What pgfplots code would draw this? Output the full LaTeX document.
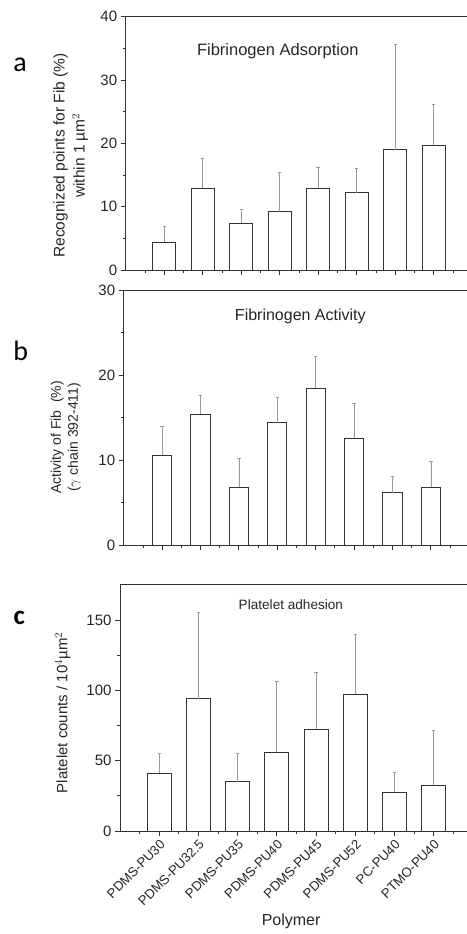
\documentclass[border=0pt]{standalone}
\usepackage{fontspec}
\setmainfont{Liberation Sans}
\newfontfamily\letterfont{Carlito}
\usepackage{pgfplots}
\pgfplotsset{compat=1.18}

\definecolor{axgray}{HTML}{333333}
\definecolor{errgray}{HTML}{9A9A9A}

\pgfplotsset{
  panel/.style={
    scale only axis, anchor=south west,
    xmin=0, xmax=9, ymin=0,
    ybar, bar shift=0pt,
    xtick={1,...,8},
    minor xtick={0.5,1.5,...,8.5},
    minor y tick num=1,
    tick align=outside, tick pos=left,
    major tick length=5pt, minor tick length=3pt,
    axis line style={axgray, line width=0.8pt},
    every tick/.style={axgray, line width=0.8pt},
    tick label style={font=\fontsize{15}{18}\selectfont, text=black!85},
    /pgf/number format/assume math mode=true,
    enlargelimits=false,
    clip=false,
  },
  bars/.style={
    draw=axgray, fill=white, line width=0.8pt,
    error bars/.cd, y dir=plus, y explicit,
    error bar style={errgray, line width=0.7pt},
    error mark options={errgray, rotate=90, mark size=1.7pt, line width=0.7pt},
  },
}

\begin{document}
\begin{tikzpicture}
\useasboundingbox (0,0) rectangle (466pt,934pt);

% ---------- panel a ----------
\begin{axis}[panel,
  at={(125.7pt,664pt)}, width=346.5pt, height=253.3pt,
  ymax=40, ytick={0,10,20,30,40},
  xticklabels={},
  bar width=0.6,
  ylabel={Recognized points for Fib (\%)\\[2pt]within 1 µm$^{2}$},
  ylabel style={at={(axis description cs:-0.159,0.452)}, anchor=center, align=center,
    font=\fontsize{15.5}{18}\selectfont, text=black!85},
]
\addplot[bars] coordinates {
  (1,4.4)  +- (0,2.45)
  (2,12.9) +- (0,4.7)
  (3,7.4)  +- (0,2.2)
  (4,9.2)  +- (0,6.2)
  (5,12.9) +- (0,3.3)
  (6,12.2) +- (0,3.9)
  (7,19.0) +- (0,16.7)
  (8,19.7) +- (0,6.5)
};
\node[font=\fontsize{16.5}{19}\selectfont, text=black!85] at (axis cs:3.95,34.5) {Fibrinogen Adsorption};
\end{axis}

% ---------- panel b ----------
\begin{axis}[panel,
  at={(123.7pt,388.7pt)}, width=345.6pt, height=255.3pt,
  ymax=30, ytick={0,10,20,30},
  xticklabels={},
  bar width=0.5,
  ylabel={Activity of Fib~~(\%)\\[1pt]($\gamma$ chain 392-411)},
  ylabel style={at={(axis description cs:-0.168,0.423)}, anchor=center, align=center,
    font=\fontsize{14}{16}\selectfont, text=black!85},
]
\addplot[bars] coordinates {
  (1,10.6)  +- (0,3.4)
  (2,15.4)  +- (0,2.2)
  (3,6.8)   +- (0,3.4)
  (4,14.4)  +- (0,3.0)
  (5,18.45) +- (0,3.75)
  (6,12.6)  +- (0,4.1)
  (7,6.2)   +- (0,1.9)
  (8,6.8)   +- (0,3.1)
};
\node[font=\fontsize{16}{19}\selectfont, text=black!85] at (axis cs:4.6,26.9) {Fibrinogen Activity};
\end{axis}

% ---------- panel c ----------
\begin{axis}[panel,
  at={(120pt,103pt)}, width=352.8pt, height=246.2pt,
  ymax=175, ytick={0,50,100,150},
  bar width=0.61,
  xticklabels={PDMS-PU30,PDMS-PU32.5,PDMS-PU35,PDMS-PU40,PDMS-PU45,PDMS-PU52,PC-PU40,PTMO-PU40},
  xticklabel style={rotate=45, anchor=north east, font=\fontsize{13.2}{15}\selectfont, text=black!85, inner sep=2pt},
  xlabel={Polymer},
  xlabel style={at={(axis description cs:0.485,-0.368)}, anchor=center,
    font=\fontsize{16}{19}\selectfont, text=black!85},
  ylabel={Platelet counts / 10$^{4}$µm$^{2}$},
  ylabel style={at={(axis description cs:-0.162,0.48)}, anchor=center,
    font=\fontsize{15}{18}\selectfont, text=black!85},
]
\addplot[bars] coordinates {
  (1,41.2) +- (0,14.2)
  (2,94.1) +- (0,61.1)
  (3,35.1) +- (0,19.9)
  (4,55.9) +- (0,50.3)
  (5,72.3) +- (0,40.5)
  (6,97.4) +- (0,42.2)
  (7,27.7) +- (0,14.2)
  (8,32.5) +- (0,38.8)
};
\node[font=\fontsize{13.6}{16}\selectfont, text=black!85] at (axis cs:4.36,160.7) {Platelet adhesion};
\end{axis}

% panel letters
\node[font=\letterfont\fontsize{28}{30}\selectfont] at (20pt,869pt) {a};
\node[font=\letterfont\fontsize{28}{30}\selectfont] at (20.7pt,583.3pt) {b};
\node[font=\letterfont\bfseries\fontsize{27}{30}\selectfont] at (19.3pt,316pt) {c};
\end{tikzpicture}
\end{document}
